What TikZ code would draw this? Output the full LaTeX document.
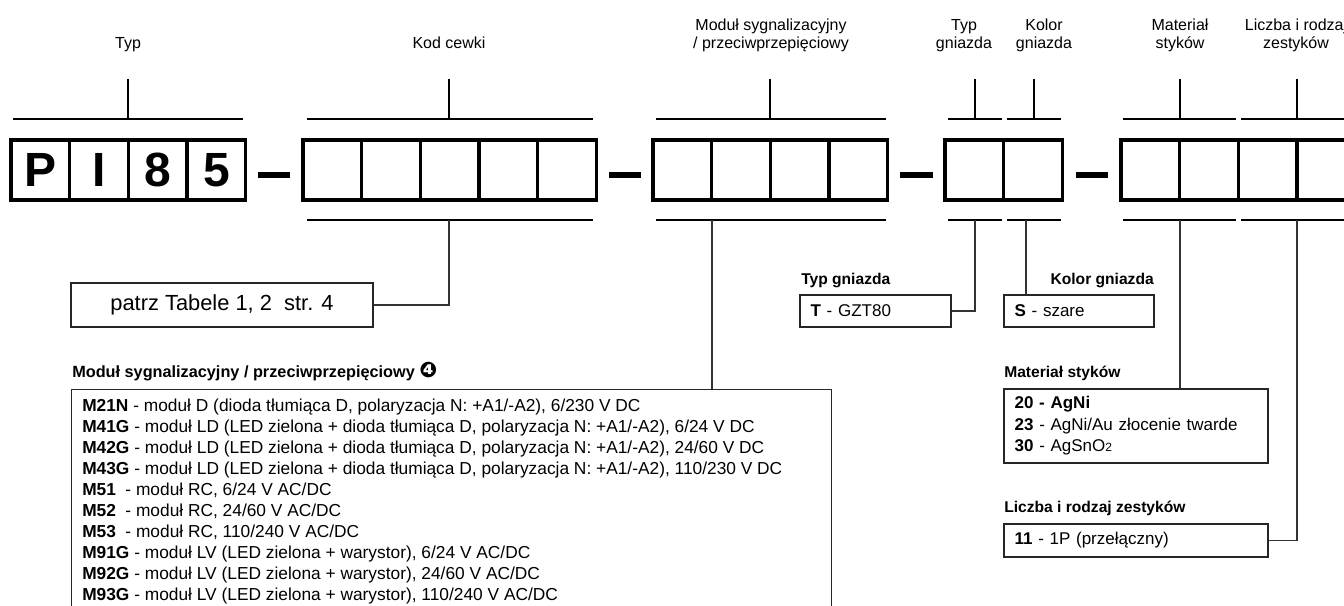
\documentclass[tikz,border=0pt]{standalone}
\usepackage{fontspec}
\setmainfont{Liberation Sans}
\newfontfamily\dingfont{DejaVu Sans}
\usetikzlibrary{positioning}

\tikzset{
  cell/.style={draw, line width=2.4pt, outer sep=0pt, inner sep=0pt,
    minimum width=44pt, minimum height=45pt,
    font=\fontsize{36}{36}\selectfont\bfseries},
  brace/.style={line width=1.1pt},
  tick/.style={line width=0.9pt},
  bar/.style={line width=4.8pt},
  conn/.style={line width=0.8pt, draw=black!80},
  infobox/.style={draw=black!85, line width=0.8pt, inner ysep=0pt, inner xsep=8pt,
    align=left, font=\fontsize{12.75}{16.1}\selectfont},
  head/.style={inner sep=0pt, font=\fontsize{11.7}{14}\selectfont\bfseries},
  toplabel/.style={inner sep=0pt, align=center, font=\fontsize{12}{13.5}\selectfont},
}
\newcommand\rcgap{\hspace{3.5pt}\ }

\begin{document}
\begin{tikzpicture}[x=0.75pt,y=0.75pt,yscale=-1,xscale=1]
\useasboundingbox (0,0) rectangle (1344,606);

% Top labels
\node[toplabel, anchor=base] (l-typ) at (128,48.7) {Typ};
\node[toplabel, anchor=base] (l-kod) at (449,48.7) {Kod cewki};
\node[toplabel, anchor=base] (l-mod) at (771,48.7) {Moduł sygnalizacyjny\\/ przeciwprzepięciowy};
\node[toplabel, anchor=base] (l-typg) at (964,48.7) {Typ\\gniazda};
\node[toplabel, anchor=base] (l-kol) at (1044,48.7) {Kolor\\gniazda};
\node[toplabel, anchor=base] (l-mat) at (1180,48.7) {Materiał\\styków};
\node[toplabel, anchor=base] (l-licz) at (1296,48.7) {Liczba i rodzaj\\zestyków};

% Cells: Typ
\node[cell] (p1) at (40.35,170) {P};
\node[cell, right=0pt of p1] (p2) {I};
\node[cell, right=0pt of p2] (p3) {8};
\node[cell, right=0pt of p3] (p4) {5};
% Cells: Kod cewki
\node[cell] (k1) at (332.35,170) {};
\foreach \i [count=\j from 2] in {1,...,4}
  \node[cell, right=0pt of k\i] (k\j) {};
% Cells: modul
\node[cell] (m1) at (682.35,170) {};
\foreach \i [count=\j from 2] in {1,...,3}
  \node[cell, right=0pt of m\i] (m\j) {};
% Cells: gniazdo
\node[cell] (g1) at (974.35,170) {};
\node[cell, right=0pt of g1] (g2) {};
% Cells: styki
\node[cell] (s1) at (1150.35,170) {};
\foreach \i [count=\j from 2] in {1,...,3}
  \node[cell, right=0pt of s\i] (s\j) {};

% Dashes
\draw[bar] (258,175) -- (290,175);
\draw[bar] (609,175) -- (641,175);
\draw[bar] (900,175) -- (933,175);
\draw[bar] (1076,175) -- (1108,175);

% Top brackets
\draw[brace] (13,119) -- (243,119);
\draw[tick] (128,79) -- (128,119);
\draw[brace] (307,119) -- (593,119);
\draw[tick] (449,79) -- (449,119);
\draw[brace] (656,119) -- (886,119);
\draw[tick] (770,79) -- (770,119);
\draw[brace] (948,119) -- (1002,119);
\draw[tick] (975,79) -- (975,119);
\draw[brace] (1007,119) -- (1061,119);
\draw[tick] (1034,79) -- (1034,119);
\draw[brace] (1123,119) -- (1236,119);
\draw[tick] (1180,79) -- (1180,119);
\draw[brace] (1241,119) -- (1355,119);
\draw[tick] (1297,79) -- (1297,119);

% Bottom brackets
\draw[brace] (307,220) -- (593,220);
\draw[brace] (656,220) -- (886,220);
\draw[brace] (948,220) -- (1002,220);
\draw[brace] (1007,220) -- (1061,220);
\draw[brace] (1123,220) -- (1236,220);
\draw[brace] (1241,220) -- (1355,220);
\coordinate (kod-dn) at (449,220);
\coordinate (mod-dn) at (712,220);
\coordinate (typg-dn) at (975,220);
\coordinate (kol-dn) at (1026,220);
\coordinate (mat-dn) at (1180,220);
\coordinate (licz-dn) at (1297,220);

% Kod cewki box
\node[infobox, align=center, inner xsep=0pt, minimum width=226.5pt, minimum height=33pt,
  font=\fontsize{16.4}{16.4}\selectfont] (patrz) at (222,305) {patrz Tabele 1, 2\ \ str. 4};
\draw[conn] (kod-dn) |- (patrz.east);

% Modul box
\node[head, anchor=base west, font=\fontsize{12.2}{14}\selectfont\bfseries] (h-mod) at (72,377.6)
  {Moduł sygnalizacyjny / przeciwprzepięciowy {\dingfont\fontsize{16}{16}\selectfont ❹}};
\node[draw=black!85, line width=0.8pt, anchor=north west, inner sep=0pt,
  minimum width=570pt, minimum height=188pt] (modbox) at (71,389) {};
\node[anchor=north west, align=left, inner sep=0pt, font=\fontsize{13}{15.7}\selectfont]
  (modtxt) at ([xshift=8.25pt,yshift=7.6pt]modbox.north west) {%
  \textbf{M21N} - moduł D (dioda tłumiąca D, polaryzacja N: +A1/-A2), 6/230 V DC\\
  \textbf{M41G} - moduł LD (LED zielona + dioda tłumiąca D, polaryzacja N: +A1/-A2), 6/24 V DC\\
  \textbf{M42G} - moduł LD (LED zielona + dioda tłumiąca D, polaryzacja N: +A1/-A2), 24/60 V DC\\
  \textbf{M43G} - moduł LD (LED zielona + dioda tłumiąca D, polaryzacja N: +A1/-A2), 110/230 V DC\\
  \textbf{M51}\rcgap- moduł RC, 6/24 V AC/DC\\
  \textbf{M52}\rcgap- moduł RC, 24/60 V AC/DC\\
  \textbf{M53}\rcgap- moduł RC, 110/240 V AC/DC\\
  \textbf{M91G} - moduł LV (LED zielona + warystor), 6/24 V AC/DC\\
  \textbf{M92G} - moduł LV (LED zielona + warystor), 24/60 V AC/DC\\
  \textbf{M93G} - moduł LV (LED zielona + warystor), 110/240 V AC/DC};
\draw[conn] (mod-dn) -- (mod-dn |- modbox.north);

% Typ gniazda
\node[head, anchor=base west] (h-typg) at (801,284.6) {Typ gniazda};
\node[infobox, text width=97.25pt, minimum height=24pt] (typgbox) at (875.5,311) {\textbf{T} - GZT80};
\draw[conn] (typg-dn) |- (typgbox.east);

% Kolor gniazda
\node[infobox, text width=96.5pt, minimum height=24pt] (kolbox) at (1079,311) {\textbf{S} - szare};
\node[head, anchor=base east] (h-kol) at (1154,284.6) {Kolor gniazda};
\draw[conn] (kol-dn) -- (kol-dn |- kolbox.north);

% Material stykow
\node[head, anchor=base west] (h-mat) at (1004,377.6) {Materiał styków};
\node[infobox, text width=182pt, minimum height=55.5pt] (matbox) at (1136,426) {%
  \textbf{20 - AgNi}\\
  \textbf{23} - AgNi/Au złocenie twarde\\
  \textbf{30} - AgSnO{\fontsize{9}{9}\selectfont 2}};
\draw[conn] (mat-dn) -- (mat-dn |- matbox.north);

% Liczba i rodzaj zestykow
\node[head, anchor=base west] (h-licz) at (1004,512.6) {Liczba i rodzaj zestyków};
\node[infobox, text width=182pt, minimum height=24.75pt] (liczbox) at (1136,540.5) {\textbf{11} - 1P (przełączny)};
\draw[conn] (licz-dn) |- (liczbox.east);

\end{tikzpicture}
\end{document}
